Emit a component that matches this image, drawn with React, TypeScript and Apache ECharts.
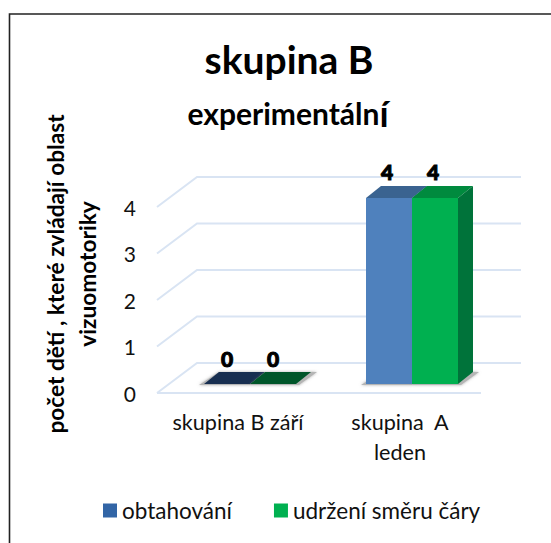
import React, { useEffect, useRef } from "react";
import * as echarts from "echarts";

const categories = ["skupina B září", "skupina  A\nleden"];
const seriesNames = ["obtahování", "udržení směru čáry"];
const obtahovani = [0, 4];
const udrzeni = [0, 4];
const yTicks = [0, 1, 2, 3, 4];
const yAxisTitle = "počet dětí , které zvládají oblast\nvizuomotoriky";

const FONT = "Lato, 'Noto Sans', sans-serif";

export default function App() {
  const ref = useRef<HTMLDivElement>(null);
  useEffect(() => {
    const chart = echarts.init(ref.current!, null, { renderer: "svg" });
    const gridRender = (p: any, api: any) => {
      const v = api.value(0);
      const y = api.coord([0, v])[1];
      const cs = p.coordSys;
      const left = cs.x;
      const right = cs.x + cs.width;
      const style = { stroke: "#d9e4f3", lineWidth: 2, fill: "none" };
      const children: any[] = [
        {
          type: "polyline",
          shape: { points: [[left, y], [left + 40, y - 30], [right + 40, y - 30]] },
          style,
        },
      ];
      if (v === 0) {
        children.push({ type: "line", shape: { x1: left, y1: y, x2: right, y2: y }, style });
      }
      return { type: "group", silent: true, children };
    };
    const barRender = (front: string, top: string, side: string, zero: string, index: number) => (_p: any, api: any) => {
      const cat = api.value(0);
      const val = api.value(1);
      const base = api.coord([cat, 0]);
      const head = api.coord([cat, val]);
      const w = 46;
      const shift = 12;
      const drop = 9;
      const x0 = base[0] + shift + (index - 1) * w;
      const x1 = x0 + w;
      const yb = base[1] - drop;
      const yt = head[1] - drop;
      const dx = 15;
      const dy = 12;
      const shadowL = index === 0 ? 5 : 0;
      const shadowR = index === 1 ? 6 : 0;
      const children: any[] = [
        {
          type: "polygon",
          shape: {
            points: [
              [x0 - shadowL, yb + 1],
              [x1 + (index === 1 ? 3 : 0), yb + 1],
              [x1 + dx + shadowR, yb - dy],
              [x0 + dx, yb - dy],
            ],
          },
          style: { fill: "#b5b5b5", shadowBlur: 3, shadowColor: "rgba(120,120,120,0.6)" },
        },
      ];
      if (val === 0) {
        children.push({
          type: "polygon",
          shape: { points: [[x0, yb], [x1, yb], [x1 + dx, yb - dy], [x0 + dx, yb - dy]] },
          style: { fill: zero },
        });
      } else {
        children.push({
          type: "polygon",
          shape: { points: [[x0, yt], [x1, yt], [x1 + dx, yt - dy], [x0 + dx, yt - dy]] },
          style: { fill: top },
        });
        children.push({
          type: "polygon",
          shape: { points: [[x1, yt], [x1 + dx, yt - dy], [x1 + dx, yb - dy], [x1, yb]] },
          style: { fill: side },
        });
        children.push({
          type: "rect",
          shape: { x: x0, y: yt, width: w, height: yb - yt },
          style: { fill: front },
        });
      }
      children.push({
        type: "text",
        style: {
          text: String(val),
          x: x0 + w / 2 + (val === 0 ? 0 : -2),
          y: yt - dy - 13 + (val === 0 ? -1 : -2),
          textAlign: "center",
          textVerticalAlign: "middle",
          fontFamily: FONT,
          fontWeight: 900,
          fontSize: 21,
          fill: "#000",
          stroke: "#000",
          lineWidth: 1,
        },
      });
      return { type: "group", children };
    };
    chart.setOption({
      animation: false,
      backgroundColor: "#fff",
      title: [
        {
          text: "skupina B",
          left: 284,
          top: 34,
          textAlign: "center",
          textStyle: { fontFamily: FONT, fontSize: 39, fontWeight: "bold", color: "#000" },
        },
        {
          text: "{a|experimentáln}{b|í}",
          left: 283,
          top: 90,
          textAlign: "center",
          textStyle: {
            rich: {
              a: { fontFamily: FONT, fontSize: 30, fontWeight: "bold", color: "#000" },
              b: { fontFamily: FONT, fontSize: 36, fontWeight: "bold", color: "#000" },
            },
          },
        },
      ],
      grid: { left: 157, right: 70, top: 207, bottom: 150, containLabel: false },
      legend: {
        left: 98,
        top: 494,
        itemWidth: 14,
        itemHeight: 14,
        itemGap: 42,
        itemStyle: { borderWidth: 0 },
        data: [
          { name: seriesNames[0], itemStyle: { color: "#3265a6" }, icon: "rect" },
          { name: seriesNames[1], itemStyle: { color: "#00b050" }, icon: "rect" },
        ],
        textStyle: { fontFamily: FONT, fontSize: 22.5, color: "#111" },
      },
      xAxis: {
        type: "category",
        data: categories,
        axisLine: { show: false },
        axisTick: { show: false },
        axisLabel: {
          color: "#111",
          fontFamily: FONT,
          fontSize: 21.6,
          lineHeight: 30,
          margin: 14,
          interval: 0,
        },
      },
      yAxis: {
        type: "value",
        min: 0,
        max: 4,
        interval: 1,
        axisLine: { show: false },
        axisTick: { show: false },
        splitLine: { show: false },
        axisLabel: { color: "#111", fontFamily: FONT, fontSize: 21, margin: 21, padding: [3, 0, 0, 0] },
      },
      series: [
        {
          type: "custom",
          name: "mřížka",
          coordinateSystem: "cartesian2d",
          renderItem: gridRender,
          encode: { y: 0 },
          data: yTicks.map((t) => [t]),
          z: 1,
          silent: true,
        },
        {
          type: "custom",
          name: seriesNames[0],
          renderItem: barRender("#4f81bd", "#3a6390", "#3a6390", "#172e50", 0),
          itemStyle: { color: "#3265a6" },
          encode: { x: 0, y: 1 },
          data: obtahovani.map((v, i) => [i, v]),
          z: 2,
        },
        {
          type: "custom",
          name: seriesNames[1],
          renderItem: barRender("#00b050", "#008a3e", "#00733a", "#00562a", 1),
          itemStyle: { color: "#00b050" },
          encode: { x: 0, y: 1 },
          data: udrzeni.map((v, i) => [i, v]),
          z: 3,
        },
      ],
      graphic: [
        {
          type: "polyline",
          silent: true,
          shape: { points: [[9.5, 543], [9.5, 14], [551, 14]] },
          style: { stroke: "#222", lineWidth: 1.6, fill: "none" },
        },
        {
          type: "text",
          silent: true,
          x: 71,
          y: 274,
          rotation: Math.PI / 2,
          style: {
            text: yAxisTitle,
            textAlign: "center",
            textVerticalAlign: "middle",
            fontFamily: FONT,
            fontSize: 22.7,
            fontWeight: "bold",
            lineHeight: 32,
            fill: "#000",
          },
        },
      ],
    });
    return () => chart.dispose();
  }, []);
  return <div ref={ref} style={{ position: "absolute", left: 0, top: 0, width: 551, height: 543 }} />;
}
